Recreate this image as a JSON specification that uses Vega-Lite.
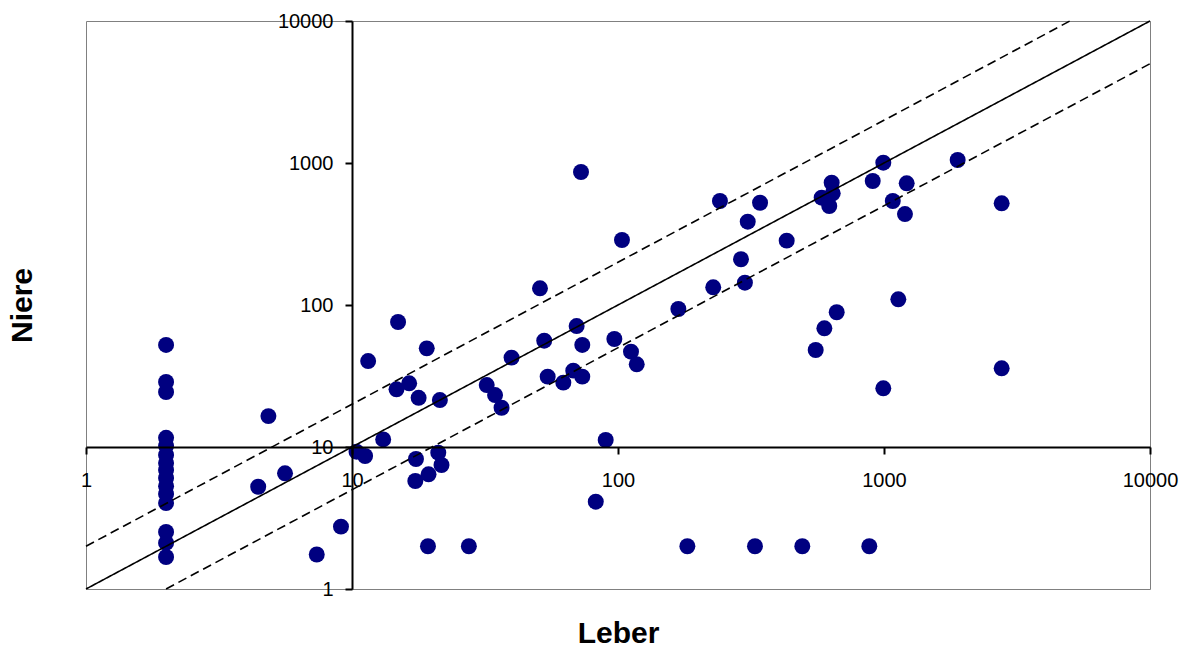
{
  "$schema": "https://vega.github.io/schema/vega-lite/v6.json",
  "width": 1064,
  "height": 568,
  "autosize": {"type": "none"},
  "padding": {"left": 86, "top": 21, "right": 38, "bottom": 59},
  "background": "white",
  "config": {"view": {"stroke": "#808080", "strokeWidth": 1}, "font": "Liberation Sans"},
  "datasets": {
    "pts": [
      {"leber": 2, "niere": 52.3}, {"leber": 2, "niere": 28.7}, {"leber": 2, "niere": 24.4},
      {"leber": 2, "niere": 11.6}, {"leber": 2, "niere": 10.2}, {"leber": 2, "niere": 8.8},
      {"leber": 2, "niere": 7.7}, {"leber": 2, "niere": 6.9}, {"leber": 2, "niere": 6.05},
      {"leber": 2, "niere": 5.3}, {"leber": 2, "niere": 4.67}, {"leber": 2, "niere": 4.03},
      {"leber": 2, "niere": 2.52}, {"leber": 2, "niere": 2.11}, {"leber": 2, "niere": 1.68},
      {"leber": 19.1, "niere": 49.5}, {"leber": 11.5, "niere": 40.3}, {"leber": 4.85, "niere": 16.5},
      {"leber": 14.7, "niere": 25.5}, {"leber": 16.4, "niere": 28.1}, {"leber": 17.8, "niere": 22.2},
      {"leber": 21.4, "niere": 21.4}, {"leber": 13.1, "niere": 11.3}, {"leber": 10.4, "niere": 9.27},
      {"leber": 11.2, "niere": 8.64}, {"leber": 17.4, "niere": 8.23}, {"leber": 21.1, "niere": 9.12},
      {"leber": 21.7, "niere": 7.47}, {"leber": 19.4, "niere": 6.42}, {"leber": 17.3, "niere": 5.76},
      {"leber": 4.44, "niere": 5.25}, {"leber": 5.6, "niere": 6.53}, {"leber": 9.09, "niere": 2.75},
      {"leber": 7.37, "niere": 1.75}, {"leber": 19.3, "niere": 2}, {"leber": 27.5, "niere": 2},
      {"leber": 14.9, "niere": 75.9},
      {"leber": 50.9, "niere": 131}, {"leber": 69.9, "niere": 71.1}, {"leber": 52.8, "niere": 56.1},
      {"leber": 73.4, "niere": 52.3}, {"leber": 96.9, "niere": 57.6}, {"leber": 111.9, "niere": 46.9},
      {"leber": 117.6, "niere": 38.2}, {"leber": 39.8, "niere": 42.6}, {"leber": 32.1, "niere": 27.3},
      {"leber": 34.5, "niere": 23.2}, {"leber": 36.5, "niere": 18.9}, {"leber": 54.4, "niere": 31.3},
      {"leber": 62.3, "niere": 28.4}, {"leber": 67.9, "niere": 34.5}, {"leber": 73.4, "niere": 31.3},
      {"leber": 89.9, "niere": 11.2}, {"leber": 82.5, "niere": 4.12},
      {"leber": 72.6, "niere": 864}, {"leber": 103.5, "niere": 287},
      {"leber": 241.7, "niere": 540}, {"leber": 342, "niere": 525}, {"leber": 307.4, "niere": 386},
      {"leber": 430.7, "niere": 284}, {"leber": 290, "niere": 210}, {"leber": 228, "niere": 133.3},
      {"leber": 300, "niere": 143.6}, {"leber": 168.6, "niere": 93.7}, {"leber": 635.7, "niere": 726},
      {"leber": 583, "niere": 570}, {"leber": 641.5, "niere": 612}, {"leber": 622.6, "niere": 498},
      {"leber": 907, "niere": 747}, {"leber": 994, "niere": 1005}, {"leber": 664, "niere": 88.9},
      {"leber": 596.8, "niere": 68.5}, {"leber": 553.6, "niere": 48.2}, {"leber": 994, "niere": 25.9},
      {"leber": 1892, "niere": 1050}, {"leber": 1217, "niere": 719}, {"leber": 1079, "niere": 540},
      {"leber": 1199, "niere": 437}, {"leber": 2769, "niere": 520}, {"leber": 1132, "niere": 109.7},
      {"leber": 2769, "niere": 35.8},
      {"leber": 182.3, "niere": 2}, {"leber": 327.3, "niere": 2}, {"leber": 493, "niere": 2}, {"leber": 880.6, "niere": 2}
    ],
    "lines": [
      {"line": "mid", "style": "solid", "leber": 1, "niere": 1},
      {"line": "mid", "style": "solid", "leber": 10000, "niere": 10000},
      {"line": "upper", "style": "dashed", "leber": 1, "niere": 2},
      {"line": "upper", "style": "dashed", "leber": 5000, "niere": 10000},
      {"line": "lower", "style": "dashed", "leber": 2, "niere": 1},
      {"line": "lower", "style": "dashed", "leber": 10000, "niere": 5000}
    ]
  },
  "layer": [
    {
      "data": {"name": "pts"},
      "mark": {"type": "circle", "size": 255, "color": "#000080", "opacity": 1},
      "encoding": {
        "x": {
          "field": "leber", "type": "quantitative",
          "scale": {"type": "log", "domain": [1, 10000], "nice": false},
          "axis": {
            "values": [1, 10, 100, 1000, 10000], "format": "d", "offset": -142,
            "domainColor": "black", "domainWidth": 2, "tickColor": "black", "tickWidth": 2, "tickSize": 7,
            "labelFontSize": 20, "labelColor": "black", "labelPadding": 16, "labelFont": "Liberation Sans",
            "labelFlush": false, "labelOverlap": false, "grid": false,
            "title": "Leber", "titleFontSize": 30, "titleFontWeight": "bold", "titleColor": "black",
            "titleFont": "Liberation Sans", "titleY": 195, "titleBaseline": "alphabetic", "zindex": 1
          }
        },
        "y": {
          "field": "niere", "type": "quantitative",
          "scale": {"type": "log", "domain": [1, 10000], "nice": false},
          "axis": {
            "values": [1, 10, 100, 1000, 10000], "format": "d", "offset": -266,
            "domainColor": "black", "domainWidth": 2, "tickColor": "black", "tickWidth": 2, "tickSize": 7,
            "labelFontSize": 20, "labelColor": "black", "labelPadding": 12, "labelFont": "Liberation Sans",
            "labelOverlap": false, "grid": false,
            "title": "Niere", "titleFontSize": 30, "titleFontWeight": "bold", "titleColor": "black",
            "titleFont": "Liberation Sans", "titleX": -330, "titleBaseline": "middle", "titleAngle": 270, "zindex": 1
          }
        }
      }
    },
    {
      "data": {"name": "lines"},
      "mark": {"type": "line", "color": "black", "strokeWidth": 1.6},
      "encoding": {
        "x": {"field": "leber", "type": "quantitative"},
        "y": {"field": "niere", "type": "quantitative"},
        "detail": {"field": "line", "type": "nominal"},
        "strokeDash": {"field": "style", "type": "nominal", "scale": {"domain": ["solid", "dashed"], "range": [[1, 0], [9, 5]]}, "legend": null}
      }
    }
  ]
}
